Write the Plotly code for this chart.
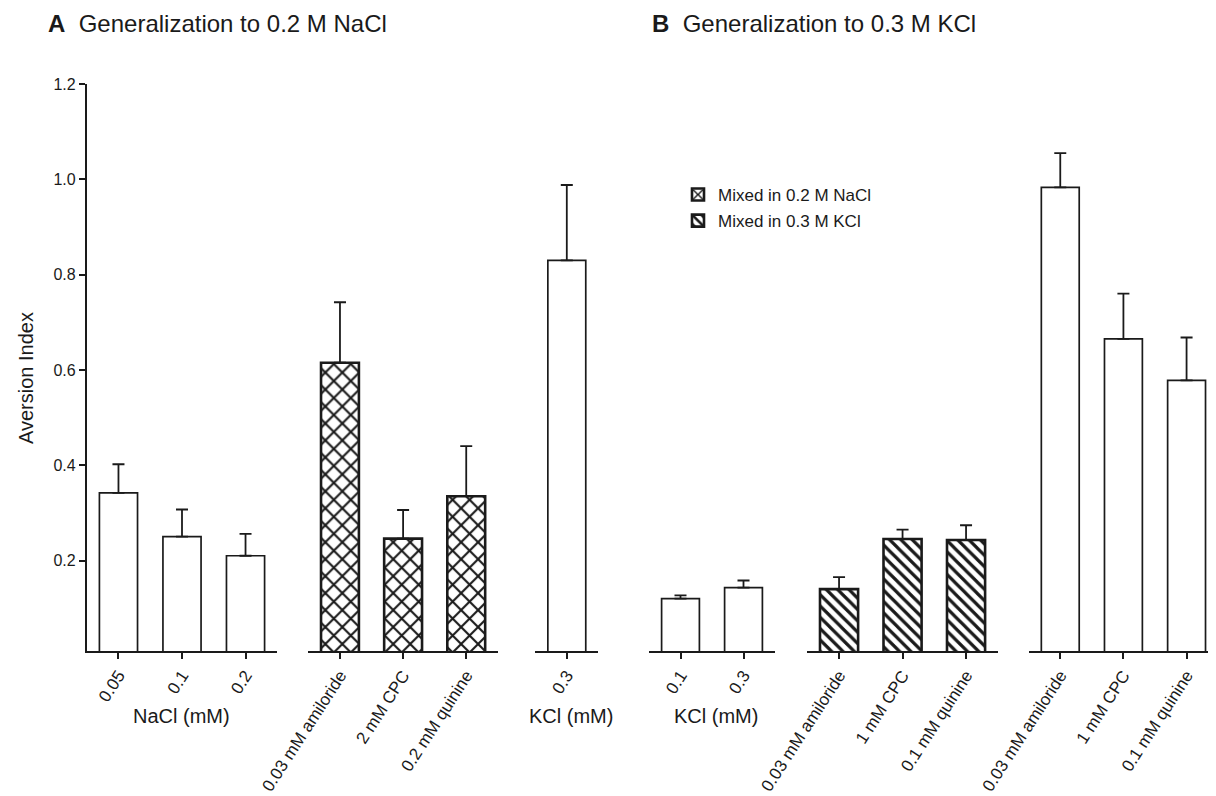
import plotly.graph_objects as go

# The page body has an 8 px margin, so the figure is drawn 8 px smaller and
# every reference pixel position p is placed at p - 8 inside the figure.
OFF = 8
W, H = 1216 - OFF, 796 - OFF

# ---------------- data ----------------
a_salt_cats = ["0.05", "0.1", "0.2"]
a_salt_vals = [0.342, 0.250, 0.210]
a_salt_err = [0.060, 0.057, 0.046]

a_mix_cats = ["0.03 mM amiloride", "2 mM CPC", "0.2 mM quinine"]
a_mix_vals = [0.615, 0.246, 0.335]
a_mix_err = [0.127, 0.060, 0.105]

a_kcl_cats = ["0.3"]
a_kcl_vals = [0.830]
a_kcl_err = [0.158]

b_kcl_cats = ["0.1", "0.3"]
b_kcl_vals = [0.120, 0.143]
b_kcl_err = [0.007, 0.015]

b_mix_cats = ["0.03 mM amiloride", "1 mM CPC", "0.1 mM quinine"]
b_mix_vals = [0.140, 0.245, 0.243]
b_mix_err = [0.025, 0.020, 0.031]

b_pure_cats = ["0.03 mM amiloride", "1 mM CPC", "0.1 mM quinine"]
b_pure_vals = [0.983, 0.665, 0.578]
b_pure_err = [0.072, 0.095, 0.090]

y_ticks = [0.2, 0.4, 0.6, 0.8, 1.0, 1.2]
legend_names = ["Mixed in 0.2 M NaCl", "Mixed in 0.3 M KCl"]

# ---------------- layout helpers ----------------
FONT = "Liberation Sans, Arial, sans-serif"
INK = "#1a1a1a"

def px_x(p):
    return (p - OFF) / W

def px_y(p):
    return 1 - (p - OFF) / H

y_dom = [px_y(651), px_y(84)]

# (categories, values, errors, pattern, domain px, range)
segments = [
    (a_salt_cats, a_salt_vals, a_salt_err, None, (86.7, 277.3), [-0.5, 2.5]),
    (a_mix_cats, a_mix_vals, a_mix_err, "x", (308.4, 497.8), [-0.5, 2.5]),
    (a_kcl_cats, a_kcl_vals, a_kcl_err, None, (535.2, 598.4), [-0.5, 0.5]),
    (b_kcl_cats, b_kcl_vals, b_kcl_err, None, (649.0, 775.0), [-0.5, 1.5]),
    (b_mix_cats, b_mix_vals, b_mix_err, "\\", (807.3, 997.8), [-0.5, 2.5]),
    (b_pure_cats, b_pure_vals, b_pure_err, None, (1028.7, 1216.0), [-0.5, 2.466]),
]

fig = go.Figure()
layout = {}
legend_i = 0
for i, (cats, vals, errs, pat, dom, rng) in enumerate(segments):
    n = i + 1
    xa = "x" if n == 1 else f"x{n}"
    marker = dict(color="white", line=dict(color=INK, width=1.7))
    showleg = False
    name = ""
    if pat is not None:
        if pat == "x":
            marker["pattern"] = dict(shape="x", fgcolor=INK, bgcolor="white",
                                     size=12, solidity=0.32, fillmode="replace")
        else:
            marker["pattern"] = dict(shape="\\", fgcolor=INK, bgcolor="white",
                                     size=8, solidity=0.4, fillmode="replace")
        marker["line"]["width"] = 2.6
        showleg = True
        name = legend_names[legend_i]
        legend_i += 1
    fig.add_trace(go.Bar(
        x=cats, y=vals, xaxis=xa, yaxis="y", width=0.6,
        marker=marker, name=name, showlegend=showleg,
        legendgroup=name if showleg else None,
        error_y=dict(type="data", array=errs, arrayminus=[0] * len(errs),
                     symmetric=False, color=INK, thickness=1.8, width=6),
    ))
    key = "xaxis" if n == 1 else f"xaxis{n}"
    layout[key] = dict(
        domain=[px_x(dom[0]), px_x(dom[1])], range=rng, anchor="y",
        type="category", showline=True, linecolor=INK, linewidth=1.7,
        ticks="outside", ticklen=6, tickwidth=1.5, tickcolor=INK,
        tickangle=-57, tickfont=dict(family=FONT, size=17, color=INK),
        showgrid=False, zeroline=False, automargin=False, fixedrange=True,
    )

layout["yaxis"] = dict(
    domain=y_dom, range=[0.0101, 1.2], anchor="x",
    tickvals=y_ticks, ticktext=[f"{v:.1f}" for v in y_ticks],
    showline=True, linecolor=INK, linewidth=1.7,
    ticks="outside", ticklen=6, tickwidth=1.5, tickcolor=INK,
    tickfont=dict(family=FONT, size=16, color=INK),
    showgrid=False, zeroline=False, automargin=False, fixedrange=True,
)

fig.update_layout(
    template="none",
    width=W, height=H, autosize=False,
    margin=dict(l=0, r=0, t=0, b=0),
    paper_bgcolor="white", plot_bgcolor="rgba(0,0,0,0)",
    showlegend=True,
    legend=dict(x=px_x(678), y=px_y(177), xanchor="left", yanchor="top",
                font=dict(family=FONT, size=17, color=INK),
                bgcolor="rgba(0,0,0,0)", traceorder="grouped",
                tracegroupgap=1, itemwidth=30),
    **layout,
)

annotations = []
for txt, x0 in [("<b>A</b>  Generalization to 0.2 M NaCl", 46),
                ("<b>B</b>  Generalization to 0.3 M KCl", 650)]:
    annotations.append(dict(text=txt, x=px_x(x0), y=px_y(23), xref="paper", yref="paper",
                            xanchor="left", yanchor="middle", showarrow=False,
                            font=dict(family=FONT, size=24, color=INK)))
for txt, cx in [("NaCl (mM)", 182), ("KCl (mM)", 571), ("KCl (mM)", 716)]:
    annotations.append(dict(text=txt, x=px_x(cx), y=px_y(716), xref="paper", yref="paper",
                            xanchor="center", yanchor="middle", showarrow=False,
                            font=dict(family=FONT, size=20, color=INK)))
annotations.append(dict(text="Aversion Index", x=px_x(26), y=px_y(378), xref="paper",
                        yref="paper", xanchor="center", yanchor="middle", textangle=-90,
                        showarrow=False, font=dict(family=FONT, size=20, color=INK)))
fig.update_layout(annotations=annotations)

fig.write_html("out.html")
